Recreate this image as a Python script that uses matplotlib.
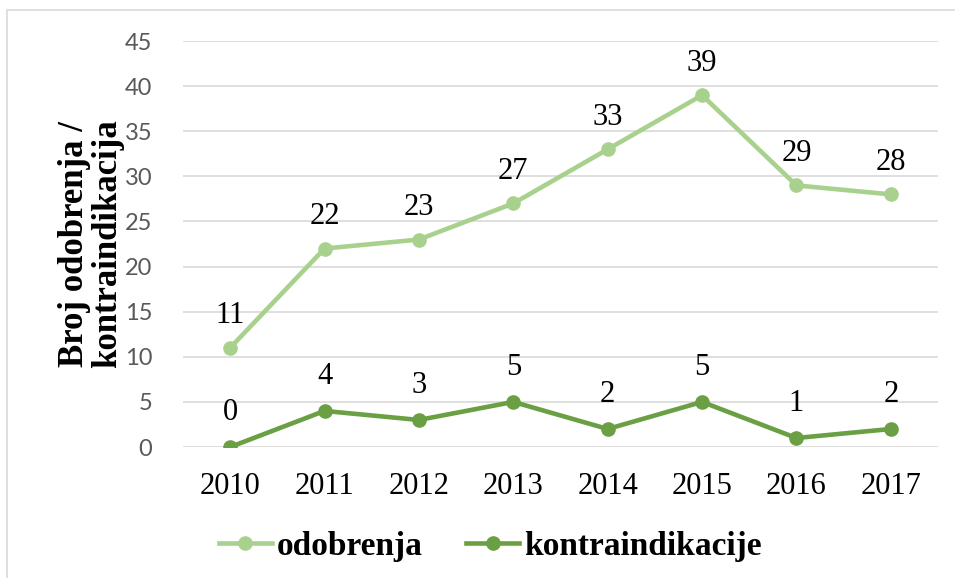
import matplotlib.pyplot as plt
from matplotlib.patches import Rectangle

years = ['2010', '2011', '2012', '2013', '2014', '2015', '2016', '2017']
odobrenja = [11, 22, 23, 27, 33, 39, 29, 28]
kontraindikacije = [0, 4, 3, 5, 2, 5, 1, 2]

light = '#A9D18E'
dark = '#6A9F43'
serif = 'Liberation Serif'

fig = plt.figure(figsize=(9.55, 5.78), dpi=100)
ax = fig.add_axes([0.1916, 0.2266, 0.7906, 0.7024])

# outer chart border
fig.patches.append(Rectangle((7 / 955, -0.1), 1.2, 1.1 - 10 / 578, transform=fig.transFigure,
                             fill=False, edgecolor='#D9D9D9', linewidth=1.2))

x = list(range(len(years)))
ax.plot(x, odobrenja, color=light, lw=3.3, marker='o', ms=9.5, label='odobrenja', zorder=3)
ax.plot(x, kontraindikacije, color=dark, lw=3.3, marker='o', ms=9.5, label='kontraindikacije', zorder=3)

for xi, v in zip(x, odobrenja):
    ax.annotate(str(v), (xi, v), xytext=(0, 23), textcoords='offset points',
                ha='center', va='center', fontsize=22, family=serif)
for xi, v in zip(x, kontraindikacije):
    ax.annotate(str(v), (xi, v), xytext=(0, 25), textcoords='offset points',
                ha='center', va='center', fontsize=22, family=serif)

ax.set_xlim(-0.5, len(years) - 0.5)
ax.set_ylim(0, 45)
ax.set_yticks(range(0, 50, 5))
ax.set_xticks(x)
ax.set_xticklabels(years, family=serif, fontsize=22)
ax.tick_params(axis='x', length=0, pad=18)
ax.tick_params(axis='y', length=0, pad=22, labelsize=17, labelcolor='#595959')
for lab in ax.get_yticklabels():
    lab.set_family('Lato')

ax.grid(axis='y', color='#D9D9D9', lw=1.2)
ax.set_axisbelow(True)
for s in ax.spines.values():
    s.set_visible(False)

ax.set_ylabel('Broj odobrenja /\nkontraindikacija', family=serif, fontweight='bold',
              fontsize=25, linespacing=1.0)
ax.yaxis.set_label_coords(-0.078, 0.5)

leg = ax.legend(loc='center', bbox_to_anchor=(0.407, -0.245), ncol=2, frameon=False,
                prop={'family': serif, 'weight': 'bold', 'size': 24},
                handlelength=1.6, columnspacing=1.3, handletextpad=0.15)

fig.savefig('out.png', dpi=100)
